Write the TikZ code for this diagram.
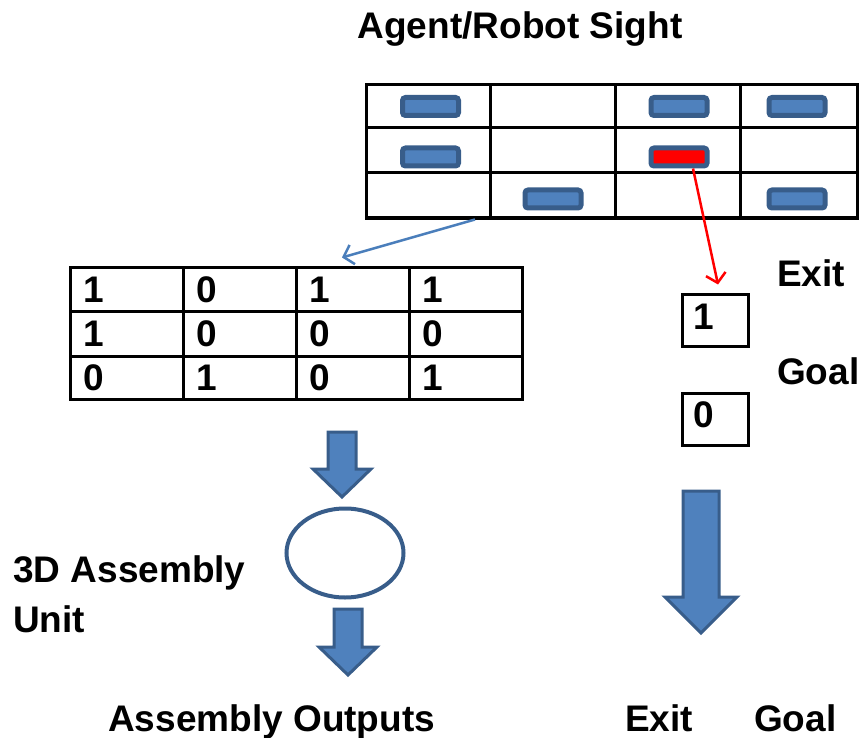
\documentclass[tikz,border=0pt]{standalone}
\usepackage{fontspec}
\setmainfont{Liberation Sans}
\usetikzlibrary{arrows.meta,shapes.geometric}
\definecolor{bfill}{HTML}{4F81BD}
\definecolor{bline}{HTML}{385D8A}
\definecolor{lblue}{HTML}{4A7EBB}
\begin{document}
\begin{tikzpicture}[x=1pt,y=-1pt,
  font=\fontsize{37}{44}\selectfont\bfseries,
  gridline/.style={line width=3pt, black},
  frame/.style={draw, line width=3pt, inner sep=0pt},
  chip/.style={draw=bline, fill=bfill, line width=5pt, rounded corners=3pt,
    minimum width=56pt, minimum height=18pt, inner sep=0pt},
  redchip/.style={chip, fill=red},
  lbl/.style={inner sep=0pt, anchor=base west},
  blockarrow/.style={draw=bline, fill=bfill, line width=3pt, line join=miter},
  ring/.style={draw=bline, line width=4pt, ellipse, inner sep=0pt}
]
\useasboundingbox (0,0) rectangle (859,738);

% title
\node[inner sep=0pt, anchor=base] (title) at (520,39) {Agent/Robot Sight};

% sight grid
\node[frame, minimum width=491pt, minimum height=133pt] (sight) at (611.5,151.5) {};
\draw[gridline] (366,128) -- (857,128) (366,173) -- (857,173)
  (490,85) -- (490,218) (615,85) -- (615,218) (740,85) -- (740,218);
\node[chip] (c11) at (430.5,106.5) {};
\node[chip] (c13) at (679,106.5) {};
\node[chip] (c14) at (797,106.5) {};
\node[chip] (c21) at (430.5,157) {};
\node[redchip] (red) at (679,157) {};
\node[chip] (c32) at (553,199) {};
\node[chip] (c34) at (797,199) {};

% binary table
\node[frame, minimum width=452pt, minimum height=132pt] (tab) at (296,333) {};
\draw[gridline] (70,311) -- (522,311) (70,356) -- (522,356)
  (183,267) -- (183,399) (296,267) -- (296,399) (409,267) -- (409,399);
\node[lbl] (t11) at (83,302) {1};
\node[lbl] (t12) at (196,302) {0};
\node[lbl] (t13) at (309,302) {1};
\node[lbl] (t14) at (422,302) {1};
\node[lbl] (t21) at (83,346) {1};
\node[lbl] (t22) at (196,346) {0};
\node[lbl] (t23) at (309,346) {0};
\node[lbl] (t24) at (422,346) {0};
\node[lbl] (t31) at (83,390) {0};
\node[lbl] (t32) at (196,390) {1};
\node[lbl] (t33) at (309,390) {0};
\node[lbl] (t34) at (422,390) {1};

% exit / goal boxes
\node[frame, minimum width=66pt, minimum height=52pt] (exitbox) at (715.5,320.5) {};
\node[lbl] (exitval) at (693,329) {1};
\node[frame, minimum width=66pt, minimum height=52pt] (goalbox) at (715.5,419.5) {};
\node[lbl] (goalval) at (693,427) {0};
\node[lbl] (exitlbl) at (777,286) {Exit};
\node[lbl] (goallbl) at (777,384) {Goal};

% connectors
\draw[lblue, line width=2.5pt, -{Straight Barb[length=9pt,width=20pt,line width=2.5pt]}]
  ([xshift=-136.5pt]sight.south) -- ([xshift=46pt,yshift=8pt]tab.north);
\draw[red, line width=2.5pt, -{Straight Barb[length=9pt,width=20pt,line width=2.5pt]}]
  ([xshift=14pt]red.south) -- ([xshift=2.5pt,yshift=8.5pt]exitbox.north);

% block arrows
\draw[blockarrow] (328,432) -- (356,432) -- (356,469) -- (371,469) -- (342,497)
  -- (313,469) -- (328,469) -- cycle;
\node[ring, minimum width=117pt, minimum height=89pt] (unit) at (345,553) {};
\draw[blockarrow] (334,609) -- (362,609) -- (362,647) -- (377,647) -- (348,675)
  -- (319,647) -- (334,647) -- cycle;
\draw[blockarrow] (683,491) -- (719,491) -- (719,597) -- (737,597) -- (701,633)
  -- (665,597) -- (683,597) -- cycle;

% labels
\node[lbl] (unitlbl1) at (13,582) {3D Assembly};
\node[lbl] (unitlbl2) at (13,632) {Unit};
\node[lbl] (outlbl) at (108,731) {Assembly Outputs};
\node[lbl] (exitout) at (625,731) {Exit};
\node[lbl] (goalout) at (754,731) {Goal};
\end{tikzpicture}
\end{document}
